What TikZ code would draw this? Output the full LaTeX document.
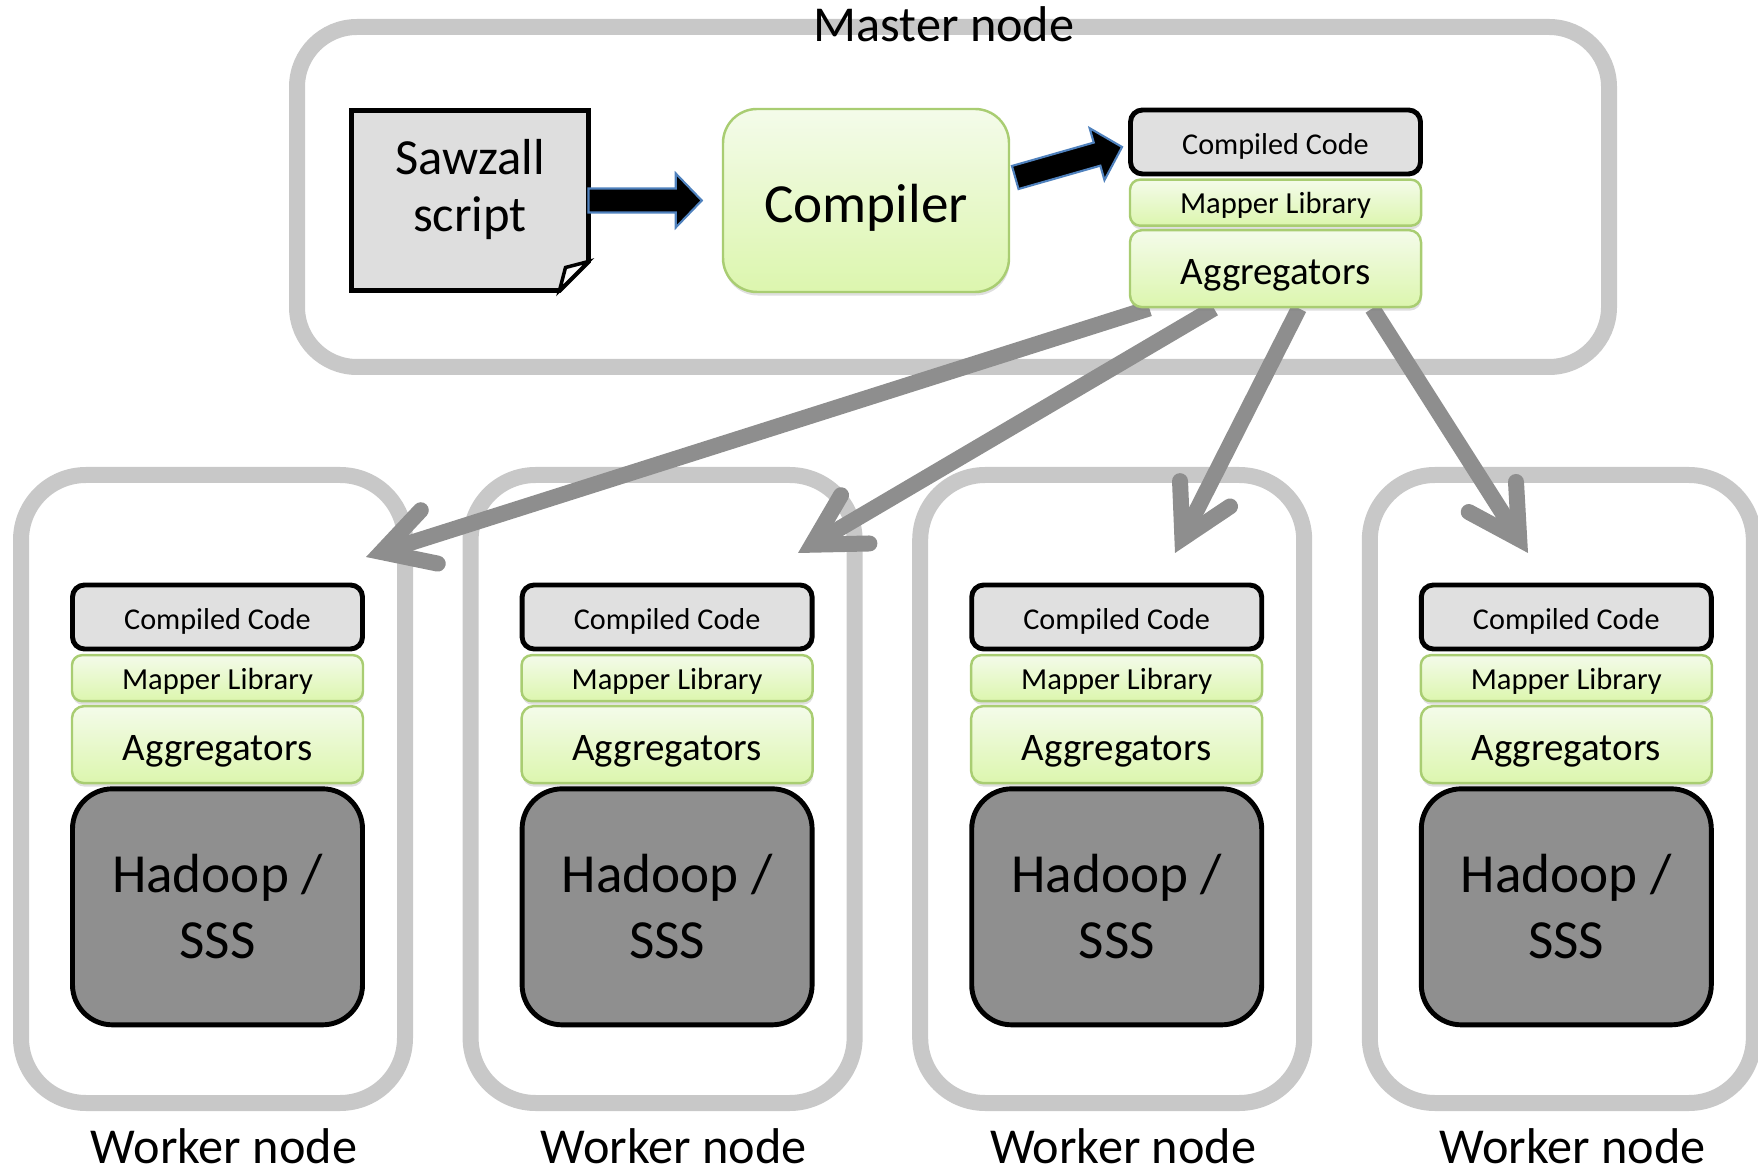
\documentclass[tikz,border=0pt]{standalone}
\usepackage{fontspec}
\setmainfont{Carlito}
\usepackage{xcolor}
\usepackage{tikz}
\usetikzlibrary{positioning, arrows.meta, calc, shadows, backgrounds}

\definecolor{framegray}{HTML}{C8C8C8}
\definecolor{flowgray}{HTML}{8E8E8E}
\definecolor{codegray}{HTML}{E0E0E0}
\definecolor{storegray}{HTML}{8F8F8F}
\definecolor{paper}{HTML}{DEDEDE}
\definecolor{leaftop}{HTML}{F4FBEA}
\definecolor{leafbottom}{HTML}{DCF6AE}
\definecolor{leafline}{HTML}{A9CD72}
\definecolor{arrowblue}{HTML}{4F81BD}

% fat arrow: shaft and wide head, from #1 to #2
\newcommand{\blockarrow}[2]{
  \coordinate (hb) at ($(#2)!0.26cm!(#1)$);
  \filldraw[blockarrow] ($(#1)!0.12cm!90:(#2)$) -- ($(hb)!0.12cm!90:(#2)$)
    -- ($(hb)!0.27cm!90:(#2)$) -- (#2) -- ($(hb)!0.27cm!-90:(#2)$)
    -- ($(hb)!0.12cm!-90:(#2)$) -- ($(#1)!0.12cm!-90:(#2)$) -- cycle;
}

\begin{document}
\begin{tikzpicture}[
    masterframe/.style={rectangle, draw=framegray, line width=0.16cm, rounded corners=0.6cm, minimum width=13.12cm, minimum height=3.40cm},
    workerframe/.style={rectangle, draw=framegray, line width=0.16cm, rounded corners=0.65cm, minimum width=3.84cm, minimum height=6.28cm},
    codebox/.style={rectangle, draw=black, line width=1.4pt, fill=codegray, rounded corners=0.12cm, minimum width=2.90cm, minimum height=0.64cm, inner sep=0pt, text height=0.25cm, text depth=0pt, font=\fontsize{8.6}{10}\selectfont},
    leafbox/.style={rectangle, draw=leafline, line width=0.7pt, top color=leaftop, bottom color=leafbottom, drop shadow={opacity=0.25, shadow xshift=0.2pt, shadow yshift=-1pt}, inner sep=0pt},
    libbox/.style={leafbox, rounded corners=0.1cm, minimum width=2.91cm, minimum height=0.46cm, text height=0.22cm, text depth=0pt, font=\fontsize{8.7}{10}\selectfont},
    aggbox/.style={leafbox, rounded corners=0.12cm, minimum width=2.91cm, minimum height=0.77cm, text height=0.32cm, text depth=0pt, font=\fontsize{11.1}{13}\selectfont},
    storebox/.style={rectangle, draw=black, line width=1.4pt, fill=storegray, rounded corners=0.4cm, minimum width=2.90cm, minimum height=2.36cm, inner sep=0pt, align=center, font=\fontsize{15.7}{18.7}\selectfont},
    compbox/.style={leafbox, rounded corners=0.34cm, minimum width=2.86cm, minimum height=1.83cm, text height=0.55cm, text depth=0.1cm, font=\fontsize{15.7}{18}\selectfont},
    docbox/.style={rectangle, minimum width=2.37cm, minimum height=1.80cm, outer sep=0pt},
    doctext/.style={align=center, inner sep=0pt, font=\fontsize{14.4}{16.4}\selectfont},
    docshape/.style={draw=black, line width=1.4pt, fill=paper, line join=miter},
    docfold/.style={draw=black, line width=1pt, fill=white!85!paper, line join=miter},
    blockarrow/.style={fill=black, draw=arrowblue, line width=0.6pt},
    flowarrow/.style={draw=flowgray, line width=0.16cm, -{Straight Barb[length=0.50cm, width=0.56cm, line cap=round]}},
    nodelabel/.style={anchor=base, inner sep=0pt, font=\fontsize{14.3}{16}\selectfont},
]
\useasboundingbox (0,0) rectangle (17.58,-11.70);

\node[nodelabel] (mlabel) at (9.44,-0.415) {Master node};

\node[docbox] (saw) at (4.70,-2.005) {};
\node[doctext] (sawtxt) at ([yshift=0.11cm]saw.center) {Sawzall\\script};
\node[compbox] (comp) at (8.66,-2.005) {Compiler};

\node[codebox] (mcc) at (12.755,-1.42) {Compiled Code};
\node[libbox, below=0.02cm of mcc] (mml) {Mapper Library};
\node[aggbox, below=0.02cm of mml] (magg) {Aggregators};

\coordinate (a1s) at (saw.east);
\coordinate (a1e) at ([xshift=-0.2cm]comp.west);
\blockarrow{a1s}{a1e}
\coordinate (a2s) at ([xshift=0.05cm,yshift=0.23cm]comp.east);
\coordinate (a2e) at ([xshift=-0.06cm,yshift=-0.05cm]mcc.west);
\blockarrow{a2s}{a2e}

\node[codebox] (cc1) at (2.175,-6.17) {Compiled Code};
\node[libbox, below=0.025cm of cc1] (ml1) {Mapper Library};
\node[aggbox, below=0.025cm of ml1] (ag1) {Aggregators};
\node[storebox, below=0.02cm of ag1] (hs1) {Hadoop /\\SSS};
\node[nodelabel] (wl1) at (2.24,-11.63) {Worker node};

\node[codebox] (cc2) at (6.671,-6.17) {Compiled Code};
\node[libbox, below=0.025cm of cc2] (ml2) {Mapper Library};
\node[aggbox, below=0.025cm of ml2] (ag2) {Aggregators};
\node[storebox, below=0.02cm of ag2] (hs2) {Hadoop /\\SSS};
\node[nodelabel] (wl2) at (6.736,-11.63) {Worker node};

\node[codebox] (cc3) at (11.167,-6.17) {Compiled Code};
\node[libbox, below=0.025cm of cc3] (ml3) {Mapper Library};
\node[aggbox, below=0.025cm of ml3] (ag3) {Aggregators};
\node[storebox, below=0.02cm of ag3] (hs3) {Hadoop /\\SSS};
\node[nodelabel] (wl3) at (11.232,-11.63) {Worker node};

\node[codebox] (cc4) at (15.663,-6.17) {Compiled Code};
\node[libbox, below=0.025cm of cc4] (ml4) {Mapper Library};
\node[aggbox, below=0.025cm of ml4] (ag4) {Aggregators};
\node[storebox, below=0.02cm of ag4] (hs4) {Hadoop /\\SSS};
\node[nodelabel] (wl4) at (15.728,-11.63) {Worker node};

\begin{scope}[on background layer]
  \node[masterframe] (master) at (9.53,-1.97) {};
  \node[workerframe] (w1) at (2.13,-7.89) {};
  \node[workerframe] (w2) at (6.626,-7.89) {};
  \node[workerframe] (w3) at (11.122,-7.89) {};
  \node[workerframe] (w4) at (15.618,-7.89) {};

  \filldraw[docshape] (saw.north west) -- (saw.north east) -- ([yshift=0.29cm]saw.south east)
    -- ([xshift=-0.29cm]saw.south east) -- (saw.south west) -- cycle;
  \filldraw[docfold] ([yshift=0.29cm]saw.south east) -- ([xshift=-0.23cm,yshift=0.23cm]saw.south east)
    -- ([xshift=-0.29cm]saw.south east) -- cycle;

  \coordinate (f1s) at ($(magg.south west)!0.07!(magg.south east)$);
  \coordinate (f2s) at ($(magg.south west)!0.29!(magg.south east)$);
  \coordinate (f3s) at ($(magg.south west)!0.58!(magg.south east)$);
  \coordinate (f4s) at ($(magg.south west)!0.83!(magg.south east)$);
  \coordinate (f1e) at (3.66,-5.57);
  \coordinate (f2e) at (7.98,-5.53);
  \coordinate (f3e) at (11.75,-5.53);
  \coordinate (f4e) at (15.28,-5.53);
  \draw[flowarrow] (f1s) -- (f1e);
  \draw[flowarrow] (f2s) -- (f2e);
  \draw[flowarrow] (f3s) -- (f3e);
  \draw[flowarrow] (f4s) -- (f4e);
\end{scope}
\end{tikzpicture}
\end{document}
